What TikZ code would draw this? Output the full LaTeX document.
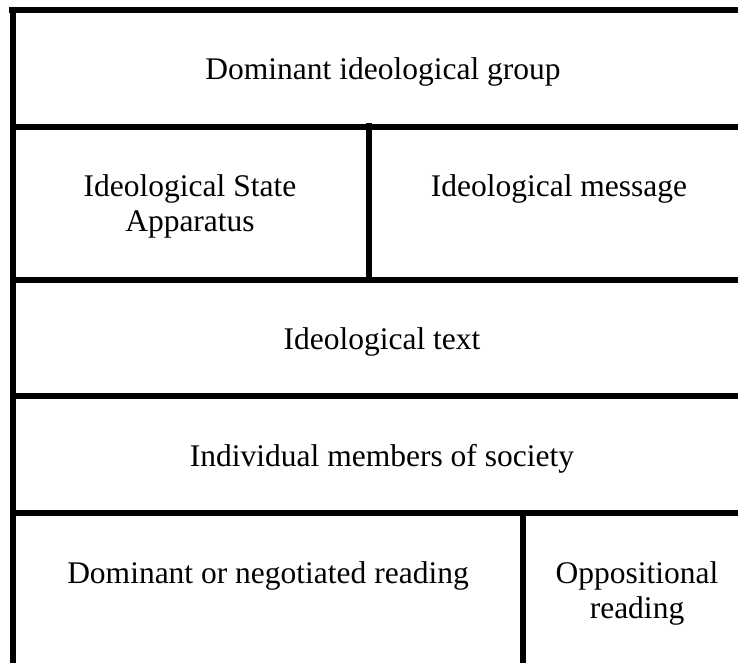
\documentclass[tikz,border=0pt]{standalone}
\usepackage{fontspec}
\setmainfont{Liberation Serif}
\begin{document}
\begin{tikzpicture}[x=1pt,y=-1pt,
  rule/.style={line width=6pt, line cap=butt},
  lbl/.style={anchor=base, align=center, inner sep=0pt, font=\fontsize{31.5}{35}\selectfont}]
\useasboundingbox (0,0) rectangle (738,663);
% rules
\coordinate (tl) at (9,9.7);
\coordinate (tr) at (760,9.7);
\draw[rule] (tl) -- (tr);
\draw[rule] (13,6.7) -- (13,680);
\draw[rule] (13,127) -- (760,127);
\draw[rule] (13,280) -- (760,280);
\draw[rule] (13,396) -- (760,396);
\draw[rule] (13,513) -- (760,513);
\draw[rule] (369,123.5) -- (369,280);
\draw[rule] (523,510) -- (523,680);
% labels (multi-line nodes: base anchor = last line's baseline)
\node[lbl] (grp) at (383,80) {Dominant ideological group};
\node[lbl] (isa) at (190,231.7) {Ideological State\\Apparatus};
\node[lbl] (msg) at (559,196.7) {Ideological message};
\node[lbl] (txt) at (382,349) {Ideological text};
\node[lbl] (ind) at (382,466) {Individual members of society};
\node[lbl] (dom) at (268,583) {Dominant or negotiated reading};
\node[lbl] (opp) at (637,618) {Oppositional\\reading};
\end{tikzpicture}
\end{document}
